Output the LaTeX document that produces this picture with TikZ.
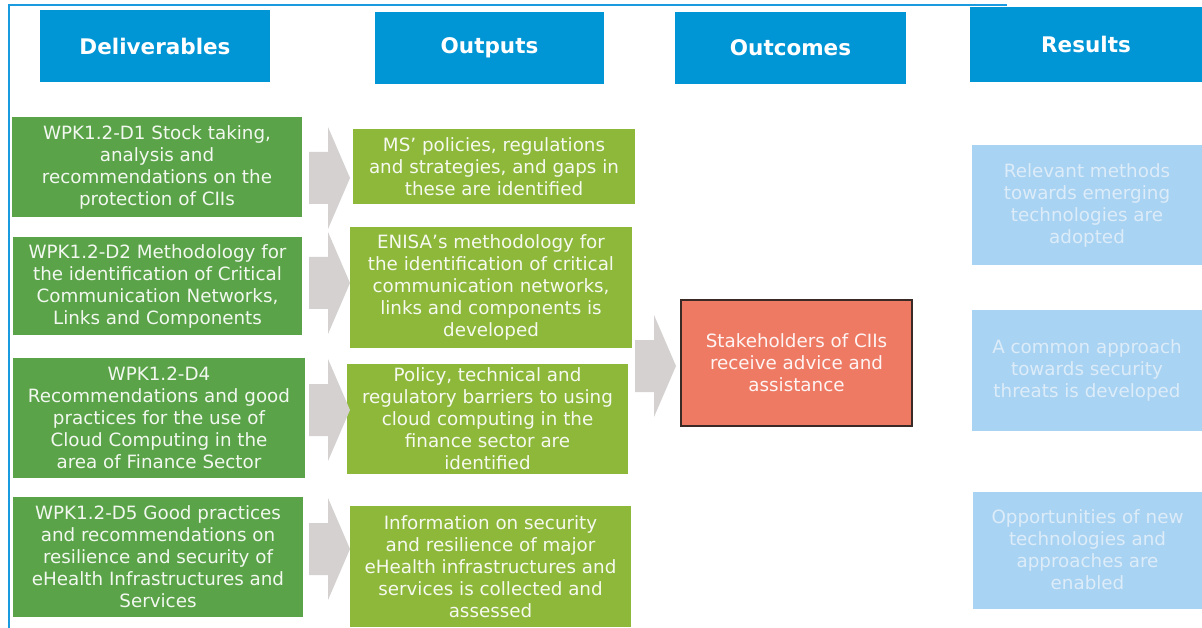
\documentclass[tikz,border=0pt]{standalone}
\usepackage{fontspec}
\setmainfont{DejaVu Sans}
\definecolor{hblue}{HTML}{0096D6}
\definecolor{lineblue}{HTML}{1A9BE0}
\definecolor{dgreen}{HTML}{5AA348}
\definecolor{lgreen}{HTML}{8DB83A}
\definecolor{redbox}{HTML}{EE7A63}
\definecolor{redborder}{HTML}{3A2A26}
\definecolor{lblue}{HTML}{A9D3F2}
\definecolor{rtext}{HTML}{DDECF9}
\definecolor{arrgrey}{HTML}{D4D1D0}
\tikzset{
  header/.style={fill=hblue, text=white, inner sep=0pt, font=\fontsize{21.5}{26}\selectfont\bfseries},
  delbox/.style={fill=dgreen, text=white!92!dgreen, inner sep=0pt, align=center, font=\fontsize{18.3}{22}\selectfont},
  outbox/.style={fill=lgreen, text=white!92!lgreen, inner sep=0pt, align=center, font=\fontsize{18.3}{22}\selectfont},
  ocbox/.style={fill=redbox, draw=redborder, line width=1.8pt, text=white!92!redbox, inner sep=0pt, align=center, font=\fontsize{18.3}{22}\selectfont},
  resbox/.style={fill=lblue, text=rtext, inner sep=0pt, align=center, font=\fontsize{18.3}{22}\selectfont},
  blockarr/.pic={\fill[arrgrey] (-20.5,-26) -- (-1.5,-26) -- (-1.5,-51) -- (20.5,0) -- (-1.5,51) -- (-1.5,26) -- (-20.5,26) -- cycle;}
}
\begin{document}
\begin{tikzpicture}[x=1pt,y=-1pt]
\useasboundingbox (0,0) rectangle (1202,628);
\fill[white] (0,0) rectangle (1202,628);
% frame lines
\coordinate (ftl) at (9,5);
\coordinate (ftr) at (1007,5);
\coordinate (fbl) at (9,628);
\draw[lineblue, line width=2pt] (ftr) -- (ftl) -- (fbl);
% headers
\node[header, minimum width=230pt, minimum height=72pt] (hdel) at (155,46) {Deliverables};
\node[header, minimum width=229pt, minimum height=72pt] (hout) at (489.5,48) {Outputs};
\node[header, minimum width=231pt, minimum height=72pt] (hoc) at (790.5,48) {Outcomes};
\node[header, minimum width=232pt, minimum height=75pt] (hres) at (1086,44.5) {Results};
% deliverables
\node[delbox, minimum width=290pt, minimum height=100pt] (d1) at (157,167) {WPK1.2-D1 Stock taking,\\analysis and\\recommendations on the\\protection of CIIs};
\node[delbox, minimum width=289pt, minimum height=98pt] (d2) at (157.5,286) {WPK1.2-D2 Methodology for\\the identification of Critical\\Communication Networks,\\Links and Components};
\node[delbox, minimum width=292pt, minimum height=120pt] (d4) at (159,418) {WPK1.2-D4\\Recommendations and good\\practices for the use of\\Cloud Computing in the\\area of Finance Sector};
\node[delbox, minimum width=290pt, minimum height=120pt] (d5) at (158,557) {WPK1.2-D5 Good practices\\and recommendations on\\resilience and security of\\eHealth Infrastructures and\\Services};
% outputs
\node[outbox, minimum width=282pt, minimum height=75pt] (o1) at (494,166.5) {MS’ policies, regulations\\and strategies, and gaps in\\these are identified};
\node[outbox, minimum width=282pt, minimum height=121pt] (o2) at (491,287.5) {ENISA’s methodology for\\the identification of critical\\communication networks,\\links and components is\\developed};
\node[outbox, minimum width=281pt, minimum height=110pt] (o3) at (487.5,419) {Policy, technical and\\regulatory barriers to using\\cloud computing in the\\finance sector are\\identified};
\node[outbox, minimum width=281pt, minimum height=121pt] (o4) at (490.5,566.5) {Information on security\\and resilience of major\\eHealth infrastructures and\\services is collected and\\assessed};
% outcome
\node[ocbox, minimum width=231pt, minimum height=126pt] (oc) at (796.5,363) {Stakeholders of CIIs\\receive advice and\\assistance};
% results
\node[resbox, minimum width=230pt, minimum height=120pt] (r1) at (1087,205) {Relevant methods\\towards emerging\\technologies are\\adopted};
\node[resbox, minimum width=230pt, minimum height=120pt] (r2) at (1087,370.5) {A common approach\\towards security\\threats is developed};
\node[resbox, minimum width=229pt, minimum height=117pt] (r3) at (1087.5,550) {Opportunities of new\\technologies and\\approaches are\\enabled};
% block arrows
\pic at (329.5,178) {blockarr};
\pic at (329.5,283) {blockarr};
\pic at (329.5,410) {blockarr};
\pic at (329.5,549) {blockarr};
\pic at (655.5,366) {blockarr};
\end{tikzpicture}
\end{document}
